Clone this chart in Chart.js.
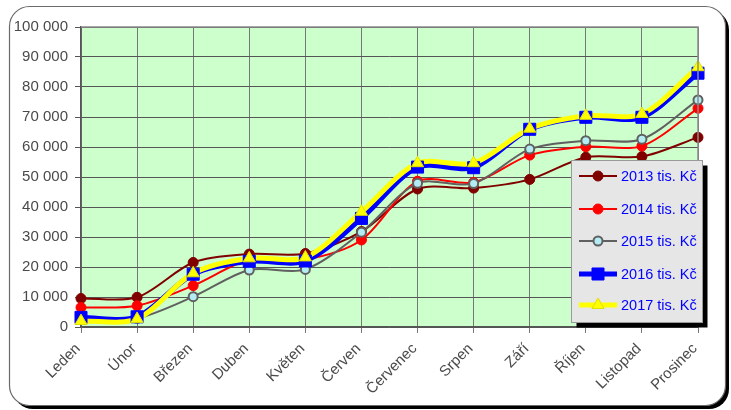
<!DOCTYPE html>
<html>
<head>
<meta charset="utf-8">
<style>
  html, body { margin: 0; padding: 0; background: #fff; }
  #chart { display: block; }
</style>
<script src="https://cdn.jsdelivr.net/npm/chart.js@4/dist/chart.umd.min.js"></script>
</head>
<body>
<canvas id="chart" width="731" height="410"></canvas>
<script>
// months on the x axis
const months = ['Leden', 'Únor', 'Březen', 'Duben', 'Květen', 'Červen',
    'Červenec', 'Srpen', 'Září', 'Říjen', 'Listopad', 'Prosinec'];

// values (Kč)
const y2013 = [9500, 9900, 21500, 24300, 24500, 31800, 46000, 46300, 49200, 56600, 56800, 63200];
const y2014 = [6500, 7100, 13800, 22400, 22500, 29000, 48600, 48200, 57300, 60100, 60300, 72900];
const y2015 = [2500, 2900, 10100, 19000, 19200, 31600, 47900, 47800, 59300, 62100, 62600, 75700];
const y2016 = [3200, 3400, 17600, 21900, 22000, 36200, 53300, 53100, 65900, 69900, 69900, 84600];
const y2017 = [2000, 2700, 17900, 22900, 23200, 38400, 54600, 54600, 66100, 70400, 71000, 86600];

const seriesNames = ['2013 tis. Kč', '2014 tis. Kč', '2015 tis. Kč', '2016 tis. Kč', '2017 tis. Kč'];
const yTicks = [0, 10000, 20000, 30000, 40000, 50000, 60000, 70000, 80000, 90000, 100000];

const FONT = "'Liberation Sans', Arial, sans-serif";

// line + marker look of each series
const styles = [
    { line: '#800000', width: 2, shape: 'circle', r: 5, fill: '#800000', edge: '#800000', edgeW: 1 },
    { line: '#ff0000', width: 2, shape: 'circle', r: 5, fill: '#ff0000', edge: '#ff0000', edgeW: 1 },
    { line: '#606060', width: 2, shape: 'circle', r: 4.5, fill: '#b4ecf4', edge: '#606060', edgeW: 2 },
    { line: '#0000ff', width: 5, shape: 'rect', r: 8.5, fill: '#0000ff', edge: '#0000ff', edgeW: 1 },
    { line: '#ffff00', width: 5, shape: 'triangle', r: 7, fill: '#ffff00', edge: '#e0e000', edgeW: 1 }
];
const seriesData = [y2013, y2014, y2015, y2016, y2017];

function roundRect(ctx, x, y, w, h, r) {
    ctx.beginPath();
    ctx.moveTo(x + r, y);
    ctx.lineTo(x + w - r, y);
    ctx.arcTo(x + w, y, x + w, y + r, r);
    ctx.lineTo(x + w, y + h - r);
    ctx.arcTo(x + w, y + h, x + w - r, y + h, r);
    ctx.lineTo(x + r, y + h);
    ctx.arcTo(x, y + h, x, y + h - r, r);
    ctx.lineTo(x, y + r);
    ctx.arcTo(x, y, x + r, y, r);
    ctx.closePath();
}

// outer frame with shadow + green plot background
const framePlugin = {
    id: 'frame',
    beforeDraw(chart) {
        const ctx = chart.ctx;
        const a = chart.chartArea;
        ctx.save();
        ctx.fillStyle = '#ffffff';
        ctx.fillRect(0, 0, chart.width, chart.height);
        ctx.fillStyle = '#000000';
        roundRect(ctx, 13, 10, 716, 399, 20);
        ctx.fill();
        ctx.fillStyle = '#ffffff';
        roundRect(ctx, 9.5, 6.5, 716, 399, 20);
        ctx.fill();
        ctx.strokeStyle = '#6a6a6a';
        ctx.lineWidth = 1.2;
        ctx.stroke();
        ctx.fillStyle = '#ccffcc';
        ctx.fillRect(a.left, a.top, a.right - a.left, a.bottom - a.top);
        ctx.restore();
    },
    afterDatasetsDraw(chart) {
        const ctx = chart.ctx;
        const a = chart.chartArea;
        ctx.save();
        ctx.strokeStyle = '#8a8a8a';
        ctx.lineWidth = 1.5;
        ctx.beginPath();
        ctx.moveTo(a.left, a.top);
        ctx.lineTo(a.right, a.top);
        ctx.lineTo(a.right, a.bottom);
        ctx.stroke();
        ctx.restore();
    }
};

// same shapes as Chart.js point styles
function drawMarker(ctx, st, x, y) {
    const r = st.r;
    ctx.fillStyle = st.fill;
    ctx.strokeStyle = st.edge;
    ctx.lineWidth = st.edgeW;
    ctx.beginPath();
    if (st.shape === 'rect') {
        const s = r * Math.SQRT1_2;
        ctx.rect(x - s, y - s, 2 * s, 2 * s);
    } else if (st.shape === 'triangle') {
        let rad = 0;
        ctx.moveTo(x + Math.sin(rad) * r, y - Math.cos(rad) * r);
        rad += Math.PI * 2 / 3;
        ctx.lineTo(x + Math.sin(rad) * r, y - Math.cos(rad) * r);
        rad += Math.PI * 2 / 3;
        ctx.lineTo(x + Math.sin(rad) * r, y - Math.cos(rad) * r);
        ctx.closePath();
    } else {
        ctx.arc(x, y, r, 0, Math.PI * 2);
    }
    ctx.fill();
    if (st.edgeW > 0) ctx.stroke();
}

// legend box drawn inside the plot
const legendPlugin = {
    id: 'boxLegend',
    afterDraw(chart) {
        const ctx = chart.ctx;
        const bx = 571.5, by = 160.5, bw = 131, bh = 162;
        ctx.save();
        ctx.fillStyle = '#000';
        ctx.fillRect(bx + 5, by + 5, bw, bh);
        ctx.fillStyle = '#e6e6e6';
        ctx.fillRect(bx, by, bw, bh);
        ctx.strokeStyle = '#9a9a9a';
        ctx.lineWidth = 1;
        ctx.strokeRect(bx, by, bw, bh);

        const rows = [176, 209, 241, 274, 305];
        seriesNames.forEach((name, i) => {
            const y = rows[i];
            const st = styles[i];
            ctx.strokeStyle = st.line;
            ctx.lineWidth = st.width;
            ctx.beginPath();
            ctx.moveTo(579, y);
            ctx.lineTo(617, y);
            ctx.stroke();
            drawMarker(ctx, st, 598, y);
            ctx.fillStyle = '#0000ff';
            ctx.font = '14.5px ' + FONT;
            ctx.textAlign = 'left';
            ctx.textBaseline = 'middle';
            ctx.fillText(name, 621, y + 1);
        });
        ctx.restore();
    }
};

// lines first (all series), then markers on top, like the original
const lineSets = seriesData.map((d, i) => ({
    label: seriesNames[i], data: d, order: 20 - i,
    borderColor: styles[i].line, borderWidth: styles[i].width,
    tension: 0.3, fill: false, pointRadius: 0
}));
const markerSets = seriesData.map((d, i) => ({
    label: seriesNames[i] + ' body', data: d, order: 10 - i, showLine: false,
    pointStyle: styles[i].shape, pointRadius: styles[i].r,
    pointBackgroundColor: styles[i].fill, pointBorderColor: styles[i].edge,
    pointBorderWidth: styles[i].edgeW
}));

new Chart(document.getElementById('chart'), {
    type: 'line',
    data: {
        labels: months,
        datasets: [...lineSets, ...markerSets]
    },
    options: {
        responsive: false,
        animation: false,
        layout: { padding: { top: 27, right: 33, left: 0, bottom: 0 } },
        plugins: {
            legend: { display: false },
            tooltip: { enabled: false }
        },
        scales: {
            x: {
                offset: false,
                afterFit: scale => { scale.height = 83; },
                grid: { color: '#777777', lineWidth: 1, tickLength: 6, drawOnChartArea: true },
                border: { color: '#555', width: 1.5 },
                ticks: {
                    color: '#4a4a4a', font: { family: FONT, size: 15 },
                    minRotation: 45, maxRotation: 45, padding: 7, autoSkip: false,
                    labelOffset: -3
                }
            },
            y: {
                min: 0, max: 100000,
                afterFit: scale => { scale.width = 81; },
                afterBuildTicks: scale => { scale.ticks = yTicks.map(v => ({ value: v })); },
                grid: { color: '#555555', lineWidth: 1, tickLength: 6 },
                border: { color: '#555', width: 1.5 },
                ticks: {
                    color: '#4a4a4a', font: { family: FONT, size: 15 }, padding: 7,
                    callback: v => String(v).replace(/\B(?=(\d{3})+(?!\d))/g, ' ')
                }
            }
        }
    },
    plugins: [framePlugin, legendPlugin]
});
</script>
</body>
</html>
